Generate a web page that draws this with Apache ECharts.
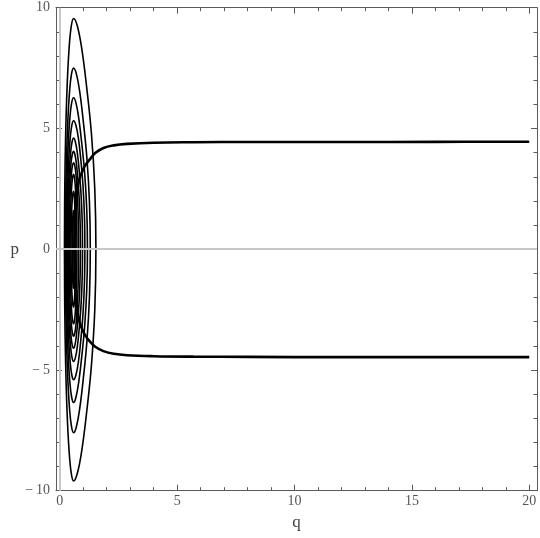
<!DOCTYPE html>
<html>
<head>
<meta charset="utf-8">
<script src="https://cdn.jsdelivr.net/npm/echarts@6/dist/echarts.min.js"></script>
<style>html,body{margin:0;padding:0;background:#fff}#c{width:540px;height:538px}</style>
</head>
<body>
<div id="c"></div>
<script>
// Axis ticks
const xMajorTicks = [0, 5, 10, 15, 20];
const xMinorTicks = [1,2,3,4,6,7,8,9,11,12,13,14,16,17,18,19];
const yMajorTicks = [-10, -5, 0, 5, 10];
const yMinorTicks = [-9,-8,-7,-6,-4,-3,-2,-1,1,2,3,4,6,7,8,9];

// Closed orbits: upper branch (U) and lower branch (L), each from left turning point to right turning point
const orbit1U = [[0.20,0],[0.213,2.47],[0.252,4.78],[0.314,6.75],[0.395,8.27],[0.489,9.23],[0.59,9.55],[0.752,9.23],[0.942,8.27],[1.141,6.75],[1.35,4.78],[1.493,2.47],[1.54,0]];
const orbit1L = [[0.20,0],[0.213,-2.49],[0.252,-4.80],[0.314,-6.79],[0.395,-8.31],[0.489,-9.27],[0.59,-9.60],[0.752,-9.27],[0.942,-8.31],[1.141,-6.79],[1.35,-4.80],[1.493,-2.49],[1.54,0]];
const orbit2U = [[0.24,0],[0.252,1.94],[0.287,3.75],[0.343,5.30],[0.415,6.50],[0.499,7.25],[0.59,7.50],[0.711,7.25],[0.853,6.50],[1.002,5.30],[1.158,3.75],[1.265,1.94],[1.30,0]];
const orbit2L = [[0.24,0],[0.252,-1.97],[0.287,-3.80],[0.343,-5.37],[0.415,-6.58],[0.499,-7.34],[0.59,-7.60],[0.711,-7.34],[0.853,-6.58],[1.002,-5.37],[1.158,-3.80],[1.265,-1.97],[1.30,0]];
const orbit3U = [[0.27,0],[0.281,1.62],[0.313,3.14],[0.364,4.43],[0.43,5.43],[0.507,6.06],[0.59,6.27],[0.69,6.06],[0.808,5.43],[0.932,4.43],[1.062,3.14],[1.151,1.62],[1.18,0]];
const orbit3L = [[0.27,0],[0.281,-1.64],[0.313,-3.18],[0.364,-4.49],[0.43,-5.50],[0.507,-6.13],[0.59,-6.35],[0.69,-6.13],[0.808,-5.50],[0.932,-4.49],[1.062,-3.18],[1.151,-1.64],[1.18,0]];
const orbit4U = [[0.30,0],[0.31,1.38],[0.339,2.66],[0.385,3.76],[0.445,4.61],[0.515,5.14],[0.59,5.32],[0.686,5.14],[0.792,4.61],[0.892,3.76],[0.988,2.66],[1.051,1.38],[1.07,0]];
const orbit4L = [[0.30,0],[0.31,-1.40],[0.339,-2.70],[0.385,-3.82],[0.445,-4.68],[0.515,-5.22],[0.59,-5.40],[0.686,-5.22],[0.792,-4.68],[0.892,-3.82],[0.988,-2.70],[1.051,-1.40],[1.07,0]];
const orbit5U = [[0.33,0],[0.339,1.19],[0.365,2.30],[0.406,3.25],[0.46,3.98],[0.523,4.44],[0.59,4.60],[0.666,4.44],[0.75,3.98],[0.829,3.25],[0.905,2.30],[0.955,1.19],[0.97,0]];
const orbit5L = [[0.33,0],[0.339,-1.20],[0.365,-2.33],[0.406,-3.29],[0.46,-4.03],[0.523,-4.49],[0.59,-4.65],[0.666,-4.49],[0.75,-4.03],[0.829,-3.29],[0.905,-2.33],[0.955,-1.20],[0.97,0]];
const orbit6U = [[0.36,0],[0.368,1.05],[0.391,2.03],[0.427,2.86],[0.475,3.51],[0.53,3.91],[0.59,4.05],[0.648,3.91],[0.712,3.51],[0.773,2.86],[0.831,2.03],[0.868,1.05],[0.88,0]];
const orbit6L = [[0.36,0],[0.368,-1.06],[0.391,-2.05],[0.427,-2.90],[0.475,-3.55],[0.53,-3.96],[0.59,-4.10],[0.648,-3.96],[0.712,-3.55],[0.773,-2.90],[0.831,-2.05],[0.868,-1.06],[0.88,0]];
const orbit7U = [[0.40,0],[0.406,0.93],[0.425,1.79],[0.456,2.53],[0.495,3.10],[0.541,3.46],[0.59,3.58],[0.64,3.46],[0.691,3.10],[0.733,2.53],[0.771,1.79],[0.794,0.93],[0.80,0]];
const orbit7L = [[0.40,0],[0.406,-0.93],[0.425,-1.80],[0.456,-2.55],[0.495,-3.12],[0.541,-3.48],[0.59,-3.60],[0.64,-3.48],[0.691,-3.12],[0.733,-2.55],[0.771,-1.80],[0.794,-0.93],[0.80,0]];
const orbit8U = [[0.44,0],[0.445,0.80],[0.46,1.55],[0.484,2.19],[0.515,2.68],[0.551,2.99],[0.59,3.10],[0.624,2.99],[0.657,2.68],[0.685,2.19],[0.71,1.55],[0.726,0.80],[0.73,0]];
const orbit8L = [[0.44,0],[0.445,-0.80],[0.46,-1.55],[0.484,-2.19],[0.515,-2.68],[0.551,-2.99],[0.59,-3.10],[0.624,-2.99],[0.657,-2.68],[0.685,-2.19],[0.71,-1.55],[0.726,-0.80],[0.73,0]];
const orbit9U = [[0.48,0],[0.484,0.62],[0.495,1.20],[0.512,1.70],[0.535,2.08],[0.562,2.32],[0.59,2.40],[0.609,2.32],[0.628,2.08],[0.644,1.70],[0.659,1.20],[0.668,0.62],[0.67,0]];
const orbit9L = [[0.48,0],[0.484,-0.62],[0.495,-1.20],[0.512,-1.70],[0.535,-2.08],[0.562,-2.32],[0.59,-2.40],[0.609,-2.32],[0.628,-2.08],[0.644,-1.70],[0.659,-1.20],[0.668,-0.62],[0.67,0]];
const orbit10U = [[0.53,0],[0.532,0.41],[0.538,0.80],[0.548,1.13],[0.56,1.39],[0.574,1.55],[0.59,1.60],[0.597,1.55],[0.604,1.39],[0.61,1.13],[0.616,0.80],[0.619,0.41],[0.62,0]];
const orbit10L = [[0.53,0],[0.532,-0.42],[0.538,-0.81],[0.548,-1.15],[0.56,-1.40],[0.574,-1.56],[0.59,-1.62],[0.597,-1.56],[0.604,-1.40],[0.61,-1.15],[0.616,-0.81],[0.619,-0.42],[0.62,0]];

// Open trajectory: lower branch (incoming) and upper branch (outgoing), from turning point outward
const openLower = [[0.62,0],[0.63,-0.7],[0.65,-1.3],[0.68,-1.82],[0.72,-2.3],[0.78,-2.72],[0.84,-3.0],[0.94,-3.28],[1.09,-3.58],[1.30,-3.84],[1.51,-4.04],[1.86,-4.22],[2.3,-4.33],[2.86,-4.39],[4.0,-4.43],[5.7,-4.45],[8,-4.46],[12,-4.47],[16,-4.47],[20,-4.47]];
const openUpper = [[0.62,0],[0.63,0.7],[0.65,1.3],[0.68,1.8],[0.72,2.25],[0.78,2.65],[0.84,2.92],[0.94,3.18],[1.09,3.48],[1.30,3.74],[1.51,3.98],[1.86,4.19],[2.3,4.30],[2.86,4.36],[4.0,4.41],[5.7,4.43],[8,4.44],[12,4.44],[16,4.445],[20,4.45]];

const orbits = [
  [orbit1U, orbit1L],[orbit2U, orbit2L],[orbit3U, orbit3L],[orbit4U, orbit4L],[orbit5U, orbit5L],
  [orbit6U, orbit6L],[orbit7U, orbit7L],[orbit8U, orbit8L],[orbit9U, orbit9L],[orbit10U, orbit10L]
];

const FONT = 'Liberation Serif';
const FRAME = '#5a5a5a';
const LABEL = '#555';
const fmt = v => v < 0 ? '\u2212\u2009' + Math.abs(v) : String(v);

function xAx(pos, major, showLine, showLabel, name) {
  return {
    type: 'value', position: pos, min: -0.16, max: 20.33,
    axisLine: { show: showLine, onZero: false, lineStyle: { color: FRAME, width: 1 } },
    axisTick: { show: true, inside: true, length: major ? 6 : 3.5, customValues: major ? xMajorTicks : xMinorTicks, lineStyle: { color: FRAME } },
    axisLabel: { show: showLabel, customValues: xMajorTicks, formatter: fmt, color: LABEL, fontFamily: FONT, fontSize: 14, margin: 4 },
    splitLine: { show: false },
    name: name || '', nameLocation: 'middle', nameGap: 16,
    nameTextStyle: { color: '#444', fontFamily: FONT, fontSize: 17 }
  };
}
function yAx(pos, major, showLine, showLabel, name) {
  return {
    type: 'value', position: pos, min: -10, max: 10,
    axisLine: { show: showLine, onZero: false, lineStyle: { color: FRAME, width: 1 } },
    axisTick: { show: true, inside: true, length: major ? 6 : 3.5, customValues: major ? yMajorTicks : yMinorTicks, lineStyle: { color: FRAME } },
    axisLabel: { show: showLabel, customValues: yMajorTicks, formatter: fmt, color: LABEL, fontFamily: FONT, fontSize: 14, margin: 6 },
    splitLine: { show: false },
    name: name || '', nameLocation: 'middle', nameGap: 37, nameRotate: 0,
    nameTextStyle: { color: '#444', fontFamily: FONT, fontSize: 17 }
  };
}

const series = orbits.map(([u, l]) => ({
  type: 'line', xAxisIndex: 0, yAxisIndex: 0,
  data: u.concat(l.slice().reverse()),
  smooth: 0.4, showSymbol: false, symbol: 'none', z: 2,
  lineStyle: { color: '#000', width: 1.6 }, silent: true, animation: false
}));
series.push({
  type: 'line', xAxisIndex: 0, yAxisIndex: 0,
  data: openLower.slice().reverse().concat(openUpper.slice(1)),
  smooth: 0.4, showSymbol: false, symbol: 'none', z: 3,
  lineStyle: { color: '#000', width: 2.6 }, silent: true, animation: false
});
series.push({
  type: 'line', xAxisIndex: 0, yAxisIndex: 0, data: [], z: 4, silent: true, animation: false,
  markLine: {
    silent: true, symbol: 'none', animation: false,
    label: { show: false },
    lineStyle: { color: '#c8c8c8', width: 2, type: 'solid' },
    data: [{ xAxis: 0 }, { yAxis: 0 }]
  }
});

const chart = echarts.init(document.getElementById('c'), null, { renderer: 'canvas' });
chart.setOption({
  animation: false,
  backgroundColor: '#fff',
  grid: { left: 56, right: 3, top: 7.7, bottom: 47.3, containLabel: false, outerBoundsMode: 'none' },
  xAxis: [
    xAx('bottom', true, true, true, 'q'),
    xAx('bottom', false, false, false),
    xAx('top', true, true, false),
    xAx('top', false, false, false)
  ],
  yAxis: [
    yAx('left', true, true, true, 'p'),
    yAx('left', false, false, false),
    yAx('right', true, true, false),
    yAx('right', false, false, false)
  ],
  series: series
});
</script>
</body>
</html>
